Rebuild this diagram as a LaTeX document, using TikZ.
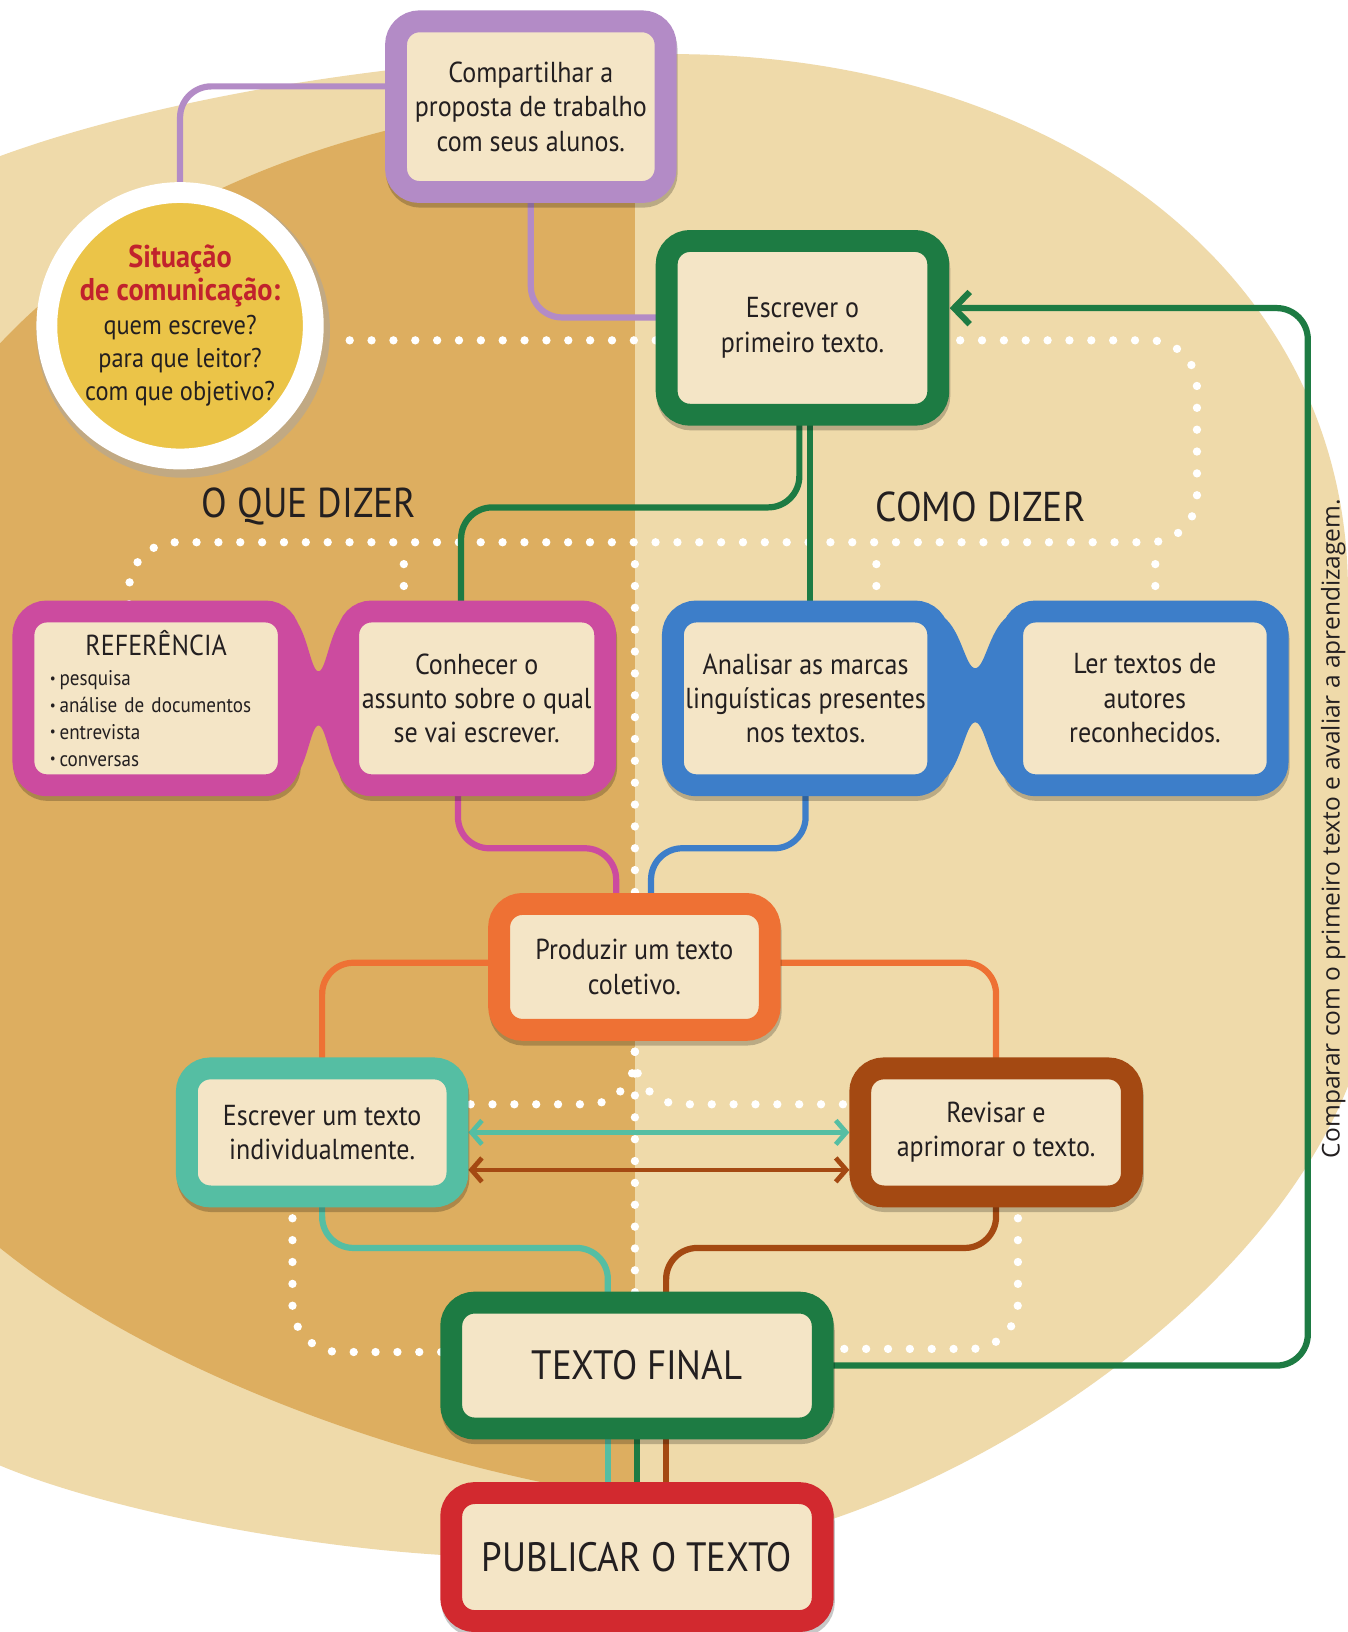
\documentclass[tikz,border=0pt]{standalone}
\usepackage{fontspec}
\setmainfont{PT Sans}[FakeStretch=0.9]
\newfontfamily\sidefont{Open Sans}
\usepackage{tikz}
\usetikzlibrary{positioning, calc, arrows.meta, shadows}

\definecolor{paperlight}{HTML}{EFDAAA}
\definecolor{paperdark}{HTML}{DDAE60}
\definecolor{boxfill}{HTML}{F4E5C6}
\definecolor{lilac}{HTML}{B38BC6}
\definecolor{darkgreen}{HTML}{1D7B43}
\definecolor{pinkbox}{HTML}{CC4B9F}
\definecolor{bluebox}{HTML}{3D7EC9}
\definecolor{orangebox}{HTML}{EE7134}
\definecolor{tealbox}{HTML}{55BEA3}
\definecolor{brownbox}{HTML}{A44912}
\definecolor{redbox}{HTML}{D2292F}
\definecolor{sunyellow}{HTML}{EBC448}
\definecolor{titlered}{HTML}{C1222D}
\definecolor{inktext}{HTML}{231F20}

\newcommand{\boxfont}{\fontsize{15.8}{18.8}\selectfont}
\newcommand{\listfont}{\fontsize{11.6}{14.6}\selectfont}
\newcommand{\titlefont}{\fontsize{22.8}{26}\selectfont}
\newcommand{\bul}{{\fontsize{8}{8}\selectfont\raisebox{0.35ex}{•}}\kern2pt}

\pgfdeclarelayer{paper}
\pgfdeclarelayer{wires}
\pgfsetlayers{paper,wires,main}

\tikzstyle{boxshadow} = [general shadow={shadow xshift=0.02cm,
    shadow yshift=-0.09cm, draw=black, fill=black, opacity=0.22}]
\tikzstyle{stepbox} = [rectangle, fill=boxfill, line width=0.42cm,
    rounded corners=0.45cm, align=center, inner sep=0pt, outer sep=0pt,
    text=inktext, font=\boxfont, boxshadow]
\tikzstyle{bigbox} = [stepbox, minimum width=7.14cm,
    font=\fontsize{22.4}{25}\selectfont]
\tikzstyle{link} = [line width=3.4pt, rounded corners=0.6cm]
\tikzstyle{twoway} = [line width=2.6pt,
    {Straight Barb[length=0.2cm,width=0.46cm]}-{Straight Barb[length=0.2cm,width=0.46cm]}]
\tikzstyle{whitedots} = [white, line width=0.16cm, line cap=round,
    dash pattern=on 0pt off 0.42cm, rounded corners=0.9cm]
\tikzstyle{sectiontitle} = [text=inktext, font=\titlefont]

\begin{document}
\begin{tikzpicture}[node distance=1.2cm]
	% paper background
	\begin{pgfonlayer}{paper}
		\fill[white] (0,0) rectangle (25.9,-31.36);
		\begin{scope}
			\clip (0,0) rectangle (25.9,-31.36);
			\fill[paperlight] (0,-3.0)
				.. controls (3.0,-1.9) and (8.0,-1.0) .. (12.8,-1.04)
				.. controls (20.0,-1.0) and (25.8,-5.0) .. (25.9,-11.2)
				.. controls (26.6,-14.4) and (26.6,-18.0) .. (25.9,-20.88)
				.. controls (24.4,-24.6) and (20.0,-27.8) .. (16.08,-29.16)
				.. controls (13.6,-29.9) and (10.4,-30.0) .. (8.5,-29.88)
				.. controls (5.6,-29.7) and (2.0,-29.0) .. (0,-28.16)
				-- (-1,-28.16) -- (-1,-3.0) -- cycle;
			\fill[paperdark] (12.2,-1.9)
				.. controls (8.0,-1.9) and (3.0,-3.4) .. (0,-6.6)
				-- (-1,-6.6) -- (-1,-23.98) -- (0,-23.98)
				.. controls (3.0,-26.4) and (8.0,-28.2) .. (12.2,-28.8) -- cycle;
		\end{scope}
	\end{pgfonlayer}
	\useasboundingbox (0,0) rectangle (25.9,-31.36);

	% steps
	\node [stepbox, draw=lilac, minimum width=5.18cm, minimum height=3.28cm]
		(share) at (10.2,-2.05)
		{Compartilhar a\\proposta de trabalho\\com seus alunos.};
	\node [circle, fill=sunyellow, draw=white, line width=0.4cm,
		minimum size=5.12cm, inner sep=0pt, align=center, text=inktext,
		font=\fontsize{14.8}{18.2}\selectfont] (situation) at (3.46,-6.26)
		{\textcolor{titlered}{\fontsize{17.2}{18.2}\selectfont\textbf{Situação}}\\
		 \textcolor{titlered}{\fontsize{17.2}{18.2}\selectfont\textbf{de comunicação:}}\\
		 quem escreve?\\para que leitor?\\com que objetivo?};
	\node [stepbox, draw=darkgreen, minimum width=5.22cm, minimum height=3.34cm]
		(first) at (15.42,-6.3) {Escrever o\\primeiro texto.};

	\node [sectiontitle] (whatlabel) at (5.94,-9.74) {O QUE DIZER};
	\node [sectiontitle] (howlabel) at (18.84,-9.74) {COMO DIZER};

	\node [stepbox, draw=pinkbox, minimum width=5.1cm, minimum height=3.34cm,
		text width=4.08cm, align=left, font=\listfont] (reference) at (3.0,-13.42)
		{\makebox[\linewidth][c]{\fontsize{15.8}{15.8}\selectfont REFERÊNCIA}\\[2pt]
		 \bul pesquisa\\\bul análise de documentos\\\bul entrevista\\\bul conversas};
	\node [stepbox, draw=pinkbox, minimum width=4.94cm, minimum height=3.34cm,
		right=1.14cm of reference] (subject)
		{Conhecer o\\assunto sobre o qual\\se vai escrever.};
	\node [stepbox, draw=bluebox, minimum width=5.1cm, minimum height=3.34cm]
		(analyse) at (15.48,-13.42)
		{Analisar as marcas\\linguísticas presentes\\nos textos.};
	\node [stepbox, draw=bluebox, minimum width=5.1cm, minimum height=3.34cm,
		right=1.42cm of analyse] (authors)
		{Ler textos de\\autores\\reconhecidos.};

	\node [stepbox, draw=orangebox, minimum width=5.2cm, minimum height=2.42cm]
		(collective) at (12.19,-18.58) {Produzir um texto\\coletivo.};
	\node [stepbox, draw=tealbox, minimum width=5.2cm, minimum height=2.46cm]
		(individual) at (6.19,-21.76) {Escrever um texto\\individualmente.};
	\node [stepbox, draw=brownbox, minimum width=5.22cm, minimum height=2.46cm]
		(revise) at (19.14,-21.76) {Revisar e\\aprimorar o texto.};

	\node [bigbox, draw=darkgreen, minimum height=2.42cm]
		(final) at (12.24,-26.24) {TEXTO FINAL};
	\node [bigbox, draw=redbox, minimum height=2.46cm, below=1.24cm of final]
		(publish) {PUBLICAR O TEXTO};

	\node [rotate=90, text=inktext, font=\sidefont\fontsize{13.4}{15}\selectfont]
		(comparelabel) at (25.62,-15.92)
		{Comparar com o primeiro texto e avaliar a aprendizagem.};

	% glasses bridges
	\fill[pinkbox, shift={($(reference.east)!0.5!(subject.west)$)}]
		(-0.56,1.62) .. controls (-0.22,1.42) and (-0.16,0.52) .. (0,0.52)
		.. controls (0.16,0.52) and (0.22,1.42) .. (0.56,1.62) -- (0.56,-1.62)
		.. controls (0.22,-1.42) and (0.16,-0.52) .. (0,-0.52)
		.. controls (-0.16,-0.52) and (-0.22,-1.42) .. (-0.56,-1.62) -- cycle;
	\fill[bluebox, shift={($(analyse.east)!0.5!(authors.west)$)}, xscale=1.25]
		(-0.56,1.62) .. controls (-0.22,1.42) and (-0.16,0.58) .. (0,0.58)
		.. controls (0.16,0.58) and (0.22,1.42) .. (0.56,1.62) -- (0.56,-1.62)
		.. controls (0.22,-1.42) and (0.16,-0.46) .. (0,-0.46)
		.. controls (-0.16,-0.46) and (-0.22,-1.42) .. (-0.56,-1.62) -- cycle;

	\begin{pgfonlayer}{wires}
		\fill[black!35, opacity=0.5] ([xshift=0.06cm,yshift=-0.1cm]situation.center)
			circle (2.82cm);

		% white dotted paths
		\coordinate (dotL) at (2.48,-10.42);
		\coordinate (dotM) at (12.2,-10.42);
		\draw[whitedots] ([xshift=0.5cm,yshift=-0.28cm]situation.east)
			-- ([yshift=-0.24cm]first.west);
		\draw[whitedots] ([yshift=-0.24cm]first.east) -- (23.0,-6.54)
			-- (23.0,-10.42) -- (dotL) -- (dotL |- reference.north);
		\draw[whitedots] ($(subject.north |- dotL)+(-1.4,-0.42)$)
			-- ([xshift=-1.4cm]subject.north);
		\draw[whitedots] ($(analyse.north |- dotL)+(1.36,-0.42)$)
			-- ([xshift=1.36cm]analyse.north);
		\draw[whitedots] ($(authors.north |- dotL)+(0.2,-0.42)$)
			-- ([xshift=0.2cm]authors.north);
		\draw[whitedots] ($(dotM)+(0,-0.42)$) -- (dotM |- collective.north);
		\draw[whitedots] (dotM |- collective.south) -- (dotM |- final.north);
		\draw[whitedots] (dotM |- collective.south)
			-- ($(dotM |- individual.east)+(0,0.54)$)
			-- ([yshift=0.54cm]individual.east);
		\draw[whitedots] (dotM |- collective.south)
			-- ($(dotM |- revise.west)+(0,0.54)$)
			-- ([yshift=0.54cm]revise.west);
		\draw[whitedots] ([xshift=-0.57cm]individual.south)
			|- ([yshift=0.26cm]final.west);
		\draw[whitedots] ([xshift=0.42cm]revise.south)
			|- ([yshift=0.32cm]final.east);

		% connectors
		\draw[link, lilac] ([yshift=0.39cm]share.west) -| (situation.north);
		\draw[link, lilac] (share.south) |- ([yshift=0.2cm]first.west);
		\draw[link, darkgreen] ([xshift=-0.06cm]first.south)
			|- ($(subject.north)+(-0.3,2.0)$) -- ([xshift=-0.3cm]subject.north);
		\draw[link, darkgreen] ([xshift=0.14cm]first.south) coordinate (gdown)
			-- (gdown |- analyse.north);
		\draw[link, pinkbox] ([xshift=-0.36cm]subject.south)
			|- ($(collective.north)+(-0.35,1.07)$)
			-- ([xshift=-0.35cm]collective.north);
		\draw[link, bluebox] (analyse.south)
			|- ($(collective.north)+(0.32,1.07)$)
			-- ([xshift=0.32cm]collective.north);
		\draw[link, orangebox] ([yshift=0.08cm]collective.west) -| (individual.north);
		\draw[link, orangebox] ([yshift=0.08cm]collective.east) -| (revise.north);
		\draw[link, tealbox] (individual.south)
			|- ($(final.north)+(-0.56,1.05)$) -- ([xshift=-0.56cm]final.north);
		\draw[link, brownbox] (revise.south)
			|- ($(final.north)+(0.56,1.05)$) -- ([xshift=0.56cm]final.north);
		\draw[link, tealbox] ([xshift=-0.56cm]final.south)
			-- ([xshift=-0.56cm]publish.north);
		\draw[link, darkgreen] (final.south) -- (publish.north);
		\draw[link, brownbox] ([xshift=0.56cm]final.south)
			-- ([xshift=0.56cm]publish.north);
		\draw[twoway, tealbox] ([xshift=0.21cm]individual.east)
			-- ([xshift=-0.21cm]revise.west);
		\draw[twoway, brownbox] ([xshift=0.21cm,yshift=-0.72cm]individual.east)
			-- ([xshift=-0.21cm,yshift=-0.72cm]revise.west);
		\draw[link, darkgreen, -{Straight Barb[length=0.3cm,width=0.62cm]}]
			(final.east) -| ($(first.east)+(7.1,0.38)$)
			-- ([xshift=0.22cm,yshift=0.38cm]first.east);
	\end{pgfonlayer}
\end{tikzpicture}
\end{document}
